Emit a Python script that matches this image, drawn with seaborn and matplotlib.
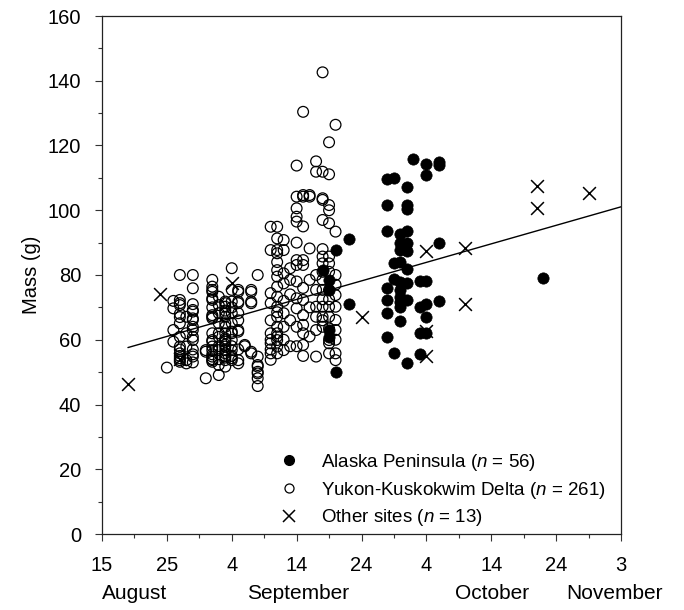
import numpy as np
import pandas as pd
import matplotlib
matplotlib.use('Agg')
import matplotlib.pyplot as plt
from matplotlib.lines import Line2D
import seaborn as sns

# days counted from 15 August
ykd_day = ([10] + [11]*4 + [12]*15 + [13]*5 + [14]*15 + [16]*3 + [17]*20 + [18]*11
           + [19]*20 + [20]*14 + [21]*11 + [22]*2 + [23]*6 + [24]*8 + [26]*11
           + [27]*18 + [28]*9 + [29]*5 + [30]*13 + [31]*13 + [32]*6 + [33]*8
           + [34]*16 + [35]*16 + [36]*11)
ykd_mass = [51.4,
            59.4, 63.0, 69.7, 72.0,
            80.0, 72.3, 71.3, 70.7, 68.0, 65.1, 60.9, 57.9, 55.8, 54.3, 53.7, 53.2, 67.0, 57.0, 55.0,
            53.7, 52.7, 57.9, 67.1, 62.0,
            80.0, 75.9, 69.2, 68.7, 66.6, 66.1, 64.0, 63.0, 60.9, 59.9, 54.8, 55.5, 71.0, 57.0, 53.0,
            48.1, 56.3, 56.8,
            78.5, 76.4, 75.4, 74.8, 72.8, 72.3, 67.6, 67.1, 66.6, 59.9, 59.4, 57.9, 56.8, 54.8, 53.7, 53.2,
            70.0, 62.0, 55.5, 54.0,
            73.3, 70.7, 68.2, 65.1, 62.0, 60.9, 56.8, 52.2, 49.1, 58.0, 54.0,
            71.8, 71.3, 70.2, 68.2, 67.1, 65.1, 64.0, 60.4, 59.9, 59.4, 57.9, 56.8, 55.8, 53.7, 51.7,
            69.0, 62.0, 58.5, 55.0, 54.5,
            82.1, 75.4, 71.8, 68.2, 65.1, 62.5, 62.0, 59.9, 56.8, 54.3, 53.7, 70.0, 58.0, 55.0,
            75.4, 74.8, 71.8, 71.3, 68.2, 63.0, 62.5, 53.7, 52.7, 66.0, 57.0,
            58.4, 58.0,
            75.4, 74.8, 71.8, 71.3, 56.3, 55.8,
            80.0, 54.8, 52.2, 51.7, 50.1, 49.6, 48.1, 45.7,
            94.9, 87.7, 74.4, 71.3, 62.0, 58.9, 55.8, 53.8, 66.0, 60.0, 57.0,
            94.9, 91.3, 87.7, 86.7, 81.5, 79.5, 76.4, 73.3, 70.2, 67.1, 64.0, 62.0, 59.9, 57.9, 55.8,
            84.0, 68.5, 61.0,
            90.8, 87.7, 80.5, 77.4, 68.2, 64.0, 56.8, 72.0, 60.0,
            82.1, 78.5, 74.0, 66.0, 58.0,
            113.8, 104.2, 100.6, 98.0, 96.5, 84.6, 83.1, 72.8, 69.7, 90.0, 78.0, 64.0, 58.0,
            130.4, 104.7, 104.2, 84.6, 83.1, 72.3, 67.6, 64.6, 58.4, 95.0, 76.0, 62.0, 55.0,
            104.7, 104.2, 88.2, 78.5, 70.0, 61.0,
            115.1, 111.9, 75.4, 70.2, 67.1, 54.8, 80.0, 63.0,
            142.6, 111.9, 103.7, 103.2, 97.0, 85.7, 83.6, 78.5, 75.4, 70.2, 67.1, 64.0,
            88.0, 81.0, 72.5, 66.0,
            121.0, 111.1, 101.6, 100.0, 85.7, 83.6, 75.4, 70.2, 67.1, 59.9, 58.9, 55.8,
            96.0, 81.0, 72.5, 63.5,
            126.4, 93.4, 80.0, 73.8, 70.2, 66.1, 55.8, 53.7, 77.0, 63.0, 60.0]

ap_day = ([34] + [35]*4 + [36]*2 + [38]*2 + [44]*7 + [45]*4 + [46]*10 + [47]*10
          + [48] + [49]*4 + [50]*6 + [52]*4 + [68])
ap_mass = [81.5,
           78.5, 75.4, 63.0, 60.9,
           87.7, 50.1,
           91.0, 71.0,
           109.6, 101.5, 93.7, 75.9, 72.3, 68.2, 60.9,
           109.9, 83.8, 78.9, 56.0,
           92.7, 89.8, 87.7, 77.9, 75.4, 73.3, 71.8, 70.2, 65.9, 84.0,
           107.1, 101.5, 100.3, 93.7, 89.8, 87.5, 81.8, 77.6, 72.3, 52.9,
           115.7,
           78.0, 70.2, 62.0, 55.6,
           114.3, 111.0, 78.0, 71.0, 66.9, 62.0,
           115.0, 114.0, 90.0, 72.1,
           79.2]

oth_day = [4, 9, 12, 20, 40, 50, 50, 50, 56, 56, 67, 67, 75]
oth_mass = [46.2, 74.1, 54.0, 77.6, 67.1, 87.5, 62.8, 55.0, 88.2, 71.0, 107.5, 100.8, 105.4]

# regression (all birds)
fit_slope = 0.572
fit_intercept = 55.3

xtick_labels = ['15', '25', '4', '14', '24', '4', '14', '24', '3']
months = ['August', 'September', 'October', 'November']
month_pos = [5, 30.3, 60.2, 79]

sns.set_style('ticks')
plt.rcParams['font.family'] = ['Liberation Sans', 'DejaVu Sans']
plt.rcParams['mathtext.fontset'] = 'custom'
plt.rcParams['mathtext.rm'] = 'Liberation Sans'
plt.rcParams['mathtext.it'] = 'Liberation Sans:italic'
plt.rcParams['text.color'] = 'black'
plt.rcParams['axes.labelcolor'] = 'black'
plt.rcParams['xtick.labelcolor'] = 'black'
plt.rcParams['ytick.labelcolor'] = 'black'

ykd = pd.DataFrame({'day': ykd_day, 'mass': ykd_mass})
ap = pd.DataFrame({'day': ap_day, 'mass': ap_mass})
oth = pd.DataFrame({'day': oth_day, 'mass': oth_mass})

fig = plt.figure(figsize=(6.84, 6.10), dpi=100)
ax = fig.add_axes([102/684, 76/610, 519/684, 518/610])

sns.scatterplot(data=ykd, x='day', y='mass', marker='o', s=60, facecolors='none',
                edgecolor='black', linewidth=0.9, ax=ax, zorder=2)
sns.scatterplot(data=ap, x='day', y='mass', marker='o', s=66, color='black',
                edgecolor='black', linewidth=0.5, ax=ax, zorder=3)
sns.scatterplot(data=oth, x='day', y='mass', marker='x', s=85, color='black',
                linewidth=1.1, ax=ax, zorder=4)

line_x = np.array([min(oth_day), 80])
fit = pd.DataFrame({'day': line_x, 'mass': fit_intercept + fit_slope * line_x})
sns.lineplot(data=fit, x='day', y='mass', color='black', linewidth=1.0, ax=ax, zorder=5)

ax.set_xlim(0, 80)
ax.set_ylim(0, 160)
ax.set_xticks(np.arange(0, 81, 10))
ax.set_xticks(np.arange(0, 81, 5), minor=True)
ax.set_xticklabels(xtick_labels)
ax.set_yticks(np.arange(0, 161, 20))
ax.set_yticks(np.arange(0, 161, 10), minor=True)
ax.tick_params(axis='both', which='major', length=5, width=0.8, labelsize=14.5, color='#333333')
ax.tick_params(axis='both', which='minor', length=3, width=0.8, color='#333333')
ax.tick_params(axis='x', which='major', pad=11)
ax.tick_params(axis='y', which='major', pad=10)
for sp in ax.spines.values():
    sp.set_visible(True)
    sp.set_linewidth(0.9)
    sp.set_color('#222222')

ax.set_xlabel('')
ax.set_ylabel('Mass (g)', fontsize=14.5, labelpad=5)

for m, p in zip(months, month_pos):
    ax.text(p, -0.097, m, transform=ax.get_xaxis_transform(), ha='center', va='top', fontsize=15)

handles = [
    Line2D([], [], marker='o', linestyle='none', color='black', markersize=7),
    Line2D([], [], marker='o', linestyle='none', markerfacecolor='none', markeredgecolor='black',
           markersize=6.5, markeredgewidth=0.9),
    Line2D([], [], marker='x', linestyle='none', color='black', markersize=8.5, markeredgewidth=1.1),
]
labels = ['Alaska Peninsula ($\\it{n}$ = 56)', 'Yukon-Kuskokwim Delta ($\\it{n}$ = 261)',
          'Other sites ($\\it{n}$ = 13)']
ax.legend(handles, labels, loc='upper left', bbox_to_anchor=((280 - 102) / 519, (534 - 452) / 518),
          frameon=False, fontsize=13.5, handlelength=1.0, handletextpad=1.2,
          labelspacing=0.35, borderpad=0, borderaxespad=0)

fig.savefig('out.png', dpi=100)
